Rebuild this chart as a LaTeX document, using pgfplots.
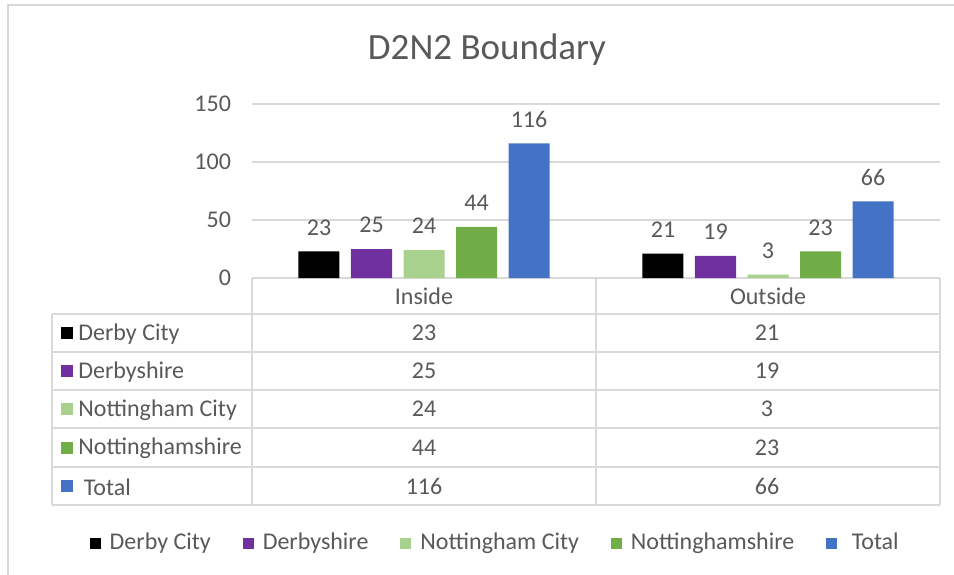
\documentclass[border=0pt]{standalone}
\usepackage{pgfplots}
\pgfplotsset{compat=1.18}
\usepackage{fontspec}
\setmainfont{Carlito}

\definecolor{txt}{HTML}{595959}
\definecolor{gridc}{HTML}{D9D9D9}
\definecolor{dcity}{HTML}{000000}
\definecolor{dshire}{HTML}{7030A0}
\definecolor{ncity}{HTML}{A9D18E}
\definecolor{nshire}{HTML}{70AD47}
\definecolor{total}{HTML}{4472C4}

\newcommand{\tf}{\fontsize{12}{14}\selectfont}

\begin{document}
\begin{tikzpicture}
\useasboundingbox (0,0) rectangle (477pt,-287pt);

\begin{scope}[x=0.5pt,y=-0.5pt]
  % chart frame
  \draw[gridc, line width=1pt] (8,580) -- (8,5) -- (960,5);
  \node[txt, font=\fontsize{18.5}{22}\selectfont] at (487,50) {D2N2 Boundary};

  % data table grid
  \begin{scope}[gridc, line width=1pt]
    \draw (252,278) -- (940,278);
    \foreach \yy in {314,352,390,428,467,505} \draw (52,\yy) -- (940,\yy);
    \foreach \xx in {252,596,940} \draw (\xx,278) -- (\xx,505);
    \draw (52,314) -- (52,505);
  \end{scope}

  % row headers
  \foreach \yy/\cc/\name in {333/dcity/Derby City, 371/dshire/Derbyshire,
      409/ncity/Nottingham City, 447.5/nshire/Nottinghamshire, 486/total/{\ Total}} {
    \fill[\cc] (61,\yy-6) rectangle (73,\yy+6);
    \node[txt, font=\tf, anchor=west, inner sep=0pt] at (78,\yy+1) {\name};
  }

  % table values
  \foreach \yy/\a/\b in {333/23/21, 371/25/19, 409/24/3, 447.5/44/23, 486/116/66} {
    \node[txt, font=\tf] at (424,\yy) {\a};
    \node[txt, font=\tf] at (767,\yy) {\b};
  }
\end{scope}

\begin{axis}[
  at={(126pt,-139pt)}, anchor=south west,
  width=344pt, height=87pt, scale only axis,
  xmin=-0.5, xmax=1.5, ymin=0, ymax=150,
  ybar=5.75pt, bar width=20.5pt,
  xtick={0,1}, xticklabels={Inside,Outside},
  ytick={0,50,100,150},
  ymajorgrids, major grid style={gridc, line width=1pt},
  axis line style={draw=none}, major tick length=0pt,
  /pgf/number format/assume math mode=true,
  tick label style={txt, font=\tf},
  yticklabel style={xshift=-7pt},
  xticklabel style={anchor=center, yshift=-9pt},
  nodes near coords,
  every node near coord/.append style={txt, font=\tf, anchor=center, yshift=12pt},
  legend columns=5,
  legend style={at={(axis description cs:0.355,-1.523)}, anchor=center,
    draw=none, font=\tf, text=txt,
    /tikz/every odd column/.append style={column sep=2.5pt},
    /tikz/every even column/.append style={column sep=14pt}},
  every axis plot post/.append style={
    legend image code/.code={\fill[##1] (0pt,-2.75pt) rectangle (5.5pt,2.75pt);}},
  clip=false,
]
\addplot[fill=dcity, draw=none] coordinates {(0,23) (1,21)};
\addplot[fill=dshire, draw=none] coordinates {(0,25) (1,19)};
\addplot[fill=ncity, draw=none] coordinates {(0,24) (1,3)};
\addplot[fill=nshire, draw=none] coordinates {(0,44) (1,23)};
\addplot[fill=total, draw=none] coordinates {(0,116) (1,66)};
\legend{Derby City, Derbyshire, Nottingham City, Nottinghamshire, \ Total}
\end{axis}
\end{tikzpicture}
\end{document}
